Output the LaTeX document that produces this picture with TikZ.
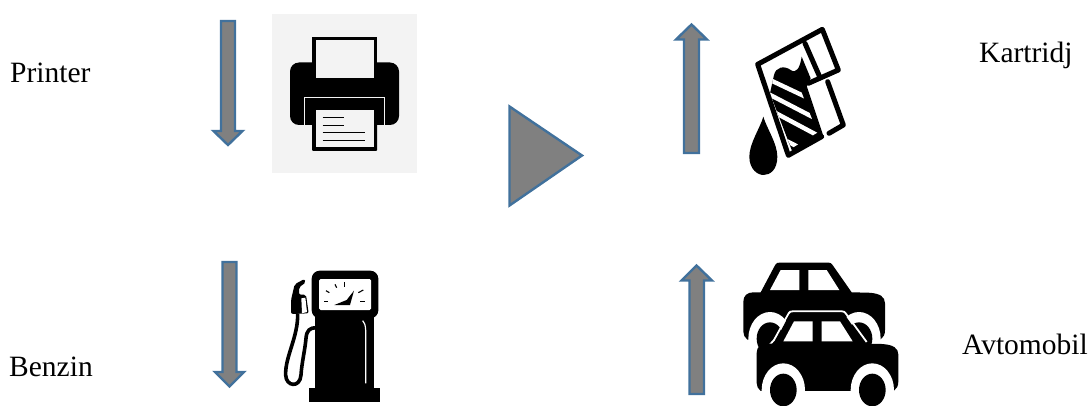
\documentclass[tikz,border=0pt]{standalone}
\usepackage{fontspec}
\setmainfont{Liberation Serif}
\usetikzlibrary{positioning}
\definecolor{arrowline}{HTML}{41719C}
\definecolor{arrowfill}{HTML}{808080}
\definecolor{printerbg}{HTML}{F3F3F3}
\tikzset{
  blockarrow/.style={draw=arrowline, fill=arrowfill, line width=2.4pt, line join=miter},
  label/.style={inner sep=0pt, font=\fontsize{29.5}{30}\selectfont},
  inkline/.style={draw=black, line width=5pt, line join=round, line cap=round}
}
\newcommand{\carshape}{
  \fill (232,269) .. controls (224,262) and (220,255) .. (220,245) -- (220,155)
    .. controls (220,137) and (232,127) .. (250,127) -- (272,127) -- (316,44)
    .. controls (319,39) and (322,38) .. (328,38) -- (476,38) .. controls (481,38) and (484,40) .. (487,44)
    -- (545,127) -- (595,128) .. controls (630,130) and (645,140) .. (645,160) -- (645,240)
    .. controls (645,255) and (640,262) .. (632,268) -- cycle;
  \fill[white] (300,120) -- (332,60) -- (388,60) -- (388,120) -- cycle;
  \fill[white] (415,120) -- (415,60) -- (470,60) -- (508,120) -- cycle;
  \fill[white] (300,266) ellipse (65 and 80);
  \fill[white] (567,266) ellipse (65 and 80);
  \fill (300,266) ellipse (40 and 49);
  \fill (567,266) ellipse (40 and 49);
}
\begin{document}
\begin{tikzpicture}[x=1pt,y=-1pt]
\useasboundingbox (0,0) rectangle (1092,406);

\node[label, anchor=base west] (printerlabel) at (10,83) {Printer};
\node[label, anchor=base west] (benzinlabel) at (9,376) {Benzin};
\node[label, anchor=base west] (kartridjlabel) at (979,63) {Kartridj};
\node[label, anchor=base east] (avtomobillabel) at (1088,354) {Avtomobil};

\draw[blockarrow] (221,21) -- (235,21) -- (235,131) -- (242.5,131) -- (228,145) -- (213.5,131) -- (221,131) -- cycle;
\draw[blockarrow] (222.5,262) -- (236.5,262) -- (236.5,372) -- (244,372) -- (229.5,386.5) -- (215,372) -- (222.5,372) -- cycle;
\draw[blockarrow] (684,153) -- (699,153) -- (699,39.5) -- (707,39.5) -- (691.5,24.5) -- (676,39.5) -- (684,39.5) -- cycle;
\draw[blockarrow] (689.5,394) -- (704,394) -- (704,280.5) -- (712,280.5) -- (696.5,265.5) -- (681.5,280.5) -- (689.5,280.5) -- cycle;
\draw[blockarrow] (509.5,106.5) -- (582,155.5) -- (509.5,205.5) -- cycle;

\fill[printerbg] (272,14) rectangle (416.5,173);
\fill[rounded corners=9pt] (290,62.5) rectangle (399,125);
\fill (312,37) rectangle (377,80);
\fill[printerbg] (315.5,40.5) rectangle (374,78.5);
\draw[printerbg, line width=1pt] (304.5,125) -- (304.5,97.5) -- (384.5,97.5) -- (384.5,125);
\fill[printerbg] (305,125) rectangle (384,126);
\fill[rounded corners=1pt] (312,108) rectangle (377,151);
\fill[printerbg] (315.5,110.5) rectangle (374,147.5);
\draw[line width=1.4pt] (322.5,117.5) -- (344,117.5);
\draw[line width=1.4pt] (322.5,125.5) -- (344,125.5);
\draw[line width=1.4pt] (322.5,132.5) -- (364.5,132.5);
\draw[line width=1.4pt] (322.5,140.5) -- (364.5,140.5);

\begin{scope}[shift={(200,250)},scale=1/3]
  \fill[rounded corners=8pt] (335,62) rectangle (535,205);
  \fill[white, rounded corners=1.5pt] (357,87) rectangle (513,180);
  \fill (345,200) rectangle (522,415);
  \fill (328,415) rectangle (540,455);
  \draw[white, line width=1.2pt] (497,400) -- (497,240) .. controls (496,225) and (494,218) .. (488,212);
  \draw[line width=1.1pt] (372,155) -- (385,155);
  \draw[line width=1.1pt] (378,122) -- (388,128);
  \draw[line width=1.1pt] (405,103) -- (410,113);
  \draw[line width=1.1pt] (433,97) -- (433,110);
  \draw[line width=1.1pt] (475,128) -- (490,120);
  \draw[line width=1.1pt] (480,155) -- (495,155);
  \fill (403,165) -- (440,150) -- (462,122) -- (450,165) -- cycle;
  \draw[line width=3.6pt] (293,190) .. controls (295,260) and (255,320) .. (257,375)
    .. controls (258,410) and (300,415) .. (303,375)
    .. controls (305,340) and (315,300) .. (318,265)
    .. controls (320,240) and (330,233) .. (350,233);
  \fill[rounded corners=2pt] (273,192) -- (273,150) -- (284,103) -- (313,87) -- (318,97) -- (297,112) -- (297,134) -- (318,134) -- (326,190) -- cycle;
  \fill[white] (304,145) -- (316,143) -- (321,186) -- (306,190) -- cycle;
\end{scope}

\begin{scope}[shift={(660,10)},scale=1/3]
  \begin{scope}
    \clip (342,195) .. controls (347,172) and (372,165) .. (392,180) .. controls (408,192) and (420,175) .. (425,140)
      -- (452,205) -- (440,228) -- (490,378) -- (397,425) -- (330,250) -- cycle;
    \fill (300,130) rectangle (500,430);
    \begin{scope}
      \clip (330,195) -- (420,235) -- (472,368) -- (395,415) -- (320,250) -- cycle;
      \draw[white, line width=4.4pt] (330,210) -- (440,262);
      \draw[white, line width=4.4pt] (325,252) -- (460,322);
      \draw[white, line width=4.4pt] (345,308) -- (480,380);
      \draw[white, line width=4.4pt] (370,388) -- (440,424);
    \end{scope}
  \end{scope}
  \draw[inkline] (485,380) -- (385,436) -- (293,163) -- (487,58) -- (535,180) -- (445,220);
  \draw[inkline] (435,100) -- (478,198);
  \draw[inkline] (503,215) -- (550,345) -- (507,370);
  \fill (310,320) .. controls (300,355) and (268,400) .. (268,440) .. controls (268,480) and (295,495) .. (310,495)
    .. controls (330,495) and (352,480) .. (352,440) .. controls (352,400) and (320,355) .. (310,320) -- cycle;
\end{scope}

\begin{scope}[shift={(670,250)},scale=1/3]
  \carshape
  \draw[white, line width=1.8pt] (296,288) -- (312,270) -- (356,190) .. controls (359,185) and (362,184) .. (368,184) -- (516,184) .. controls (521,184) and (524,186) .. (527,190) -- (590,276);
  \begin{scope}[shift={(40,154)}]
    \carshape
  \end{scope}
\end{scope}
\end{tikzpicture}
\end{document}
